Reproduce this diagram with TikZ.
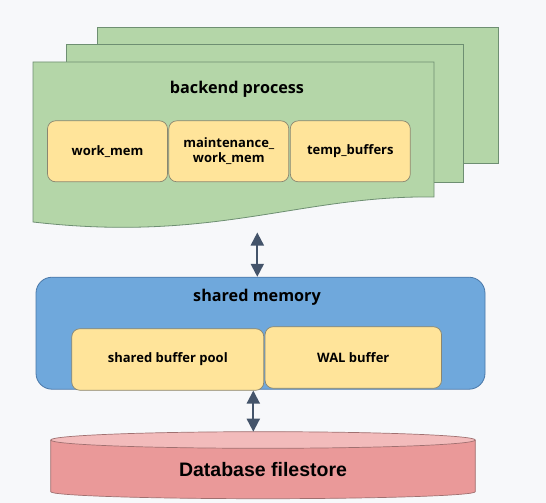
\documentclass[tikz,border=0pt]{standalone}
\usepackage{fontspec}
\newfontfamily\labfont{Open Sans}
\newfontfamily\dbfont{Liberation Sans}
\usetikzlibrary{arrows.meta}
\definecolor{bgc}{HTML}{F7F8FA}
\definecolor{greenf}{HTML}{B4D6A8}
\definecolor{greend}{HTML}{6E8F72}
\definecolor{yelf}{HTML}{FFE49A}
\definecolor{yeld}{HTML}{8A8670}
\definecolor{bluef}{HTML}{6FA8DC}
\definecolor{blued}{HTML}{4A78A8}
\definecolor{redf}{HTML}{EA9999}
\definecolor{redt}{HTML}{F2BBBB}
\definecolor{redd}{HTML}{A07070}
\definecolor{arrc}{HTML}{44546A}
\tikzset{
  sheet/.style={draw=greend, fill=greenf, line width=0.8pt},
  membox/.style={draw=yeld, fill=yelf, line width=0.7pt, rounded corners=8pt, align=center,
    font=\labfont\bfseries\fontsize{13}{15}\selectfont, inner sep=0pt},
  title/.style={font=\labfont\bfseries\fontsize{16.2}{19}\selectfont},
  biarrow/.style={draw=arrc, line width=2pt, {Triangle[length=13pt,width=13pt]}-{Triangle[length=13pt,width=13pt]}},
}
\begin{document}
\begin{tikzpicture}[x=1pt,y=-1pt]
\fill[bgc] (0,0) rectangle (546,503);
\useasboundingbox (0,0) rectangle (546,503);
% stacked sheets
\node[sheet, minimum width=401pt, minimum height=136pt, inner sep=0pt] (sheet3) at (298.3,95) {};
\node[sheet, minimum width=397pt, minimum height=138pt, inner sep=0pt] (sheet2) at (265.3,113) {};
\path[sheet] (33,62) -- (434,62) -- (434,197)
  .. controls (300,195) and (215,243) .. (33,222) -- cycle;
\node[title] (bp) at (237,89) {backend process};
\node[membox, minimum width=120pt, minimum height=61pt] (wm) at (107.5,151.3) {work\_mem};
\node[membox, minimum width=120pt, minimum height=61pt] (mwm) at (228.8,151.3) {maintenance\_\\work\_mem};
\node[membox, minimum width=120pt, minimum height=61pt] (tb) at (350.3,151.3) {temp\_buffers};
\coordinate (bpbot) at (257.3,232.5);
% shared memory
\node[draw=blued, fill=bluef, line width=0.8pt, rounded corners=16pt, minimum width=449pt, minimum height=112pt, inner sep=0pt] (shm) at (260.5,333.2) {};
\node[title] (shmt) at (257,297) {shared memory};
\node[membox, minimum width=192pt, minimum height=61.5pt] (sbp) at (167.8,359.5) {shared buffer pool};
\node[membox, minimum width=176.5pt, minimum height=61.5pt] (wal) at (353.3,357.5) {WAL buffer};
% database cylinder
\fill[redf] (50.7,440) -- (50.7,491.7) arc[start angle=180, end angle=360, x radius=212.3pt, y radius=7pt] -- (475.3,440) -- cycle;
\draw[redd, line width=0.7pt] (50.7,440) -- (50.7,491.7) arc[start angle=180, end angle=360, x radius=212.3pt, y radius=7pt] -- (475.3,440);
\draw[redd, fill=redt, line width=0.7pt] (263,440) ellipse [x radius=212.3pt, y radius=8.3pt];
\node[font=\dbfont\bfseries\fontsize{19.5}{22}\selectfont] (db) at (263,469.5) {Database filestore};
\coordinate (dbtop) at (253.3,431.7);
% arrows
\draw[biarrow] (bpbot) -- (bpbot |- shm.north);
\draw[biarrow] (sbp.south -| dbtop) -- (dbtop);
\end{tikzpicture}
\end{document}
